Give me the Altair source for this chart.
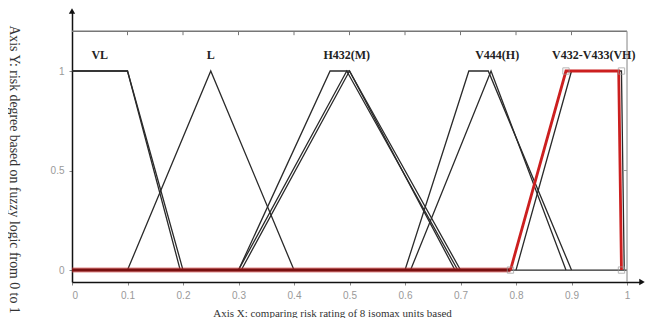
import altair as alt
import pandas as pd

# ---- data -------------------------------------------------------------
series_names = ["VL_a", "VL_b", "L", "M_trap", "M_tri_a", "M_tri_b",
                "H_trap", "H_tri", "VH_black", "base_black"]
series_x = [
    [0.0, 0.10, 0.20],
    [0.0, 0.10, 0.195],
    [0.10, 0.25, 0.40],
    [0.30, 0.465, 0.50, 0.69],
    [0.305, 0.50, 0.70],
    [0.30, 0.495, 0.695],
    [0.60, 0.715, 0.75, 0.90],
    [0.61, 0.755, 0.89],
    [0.80, 0.90, 0.99, 0.995],
    [0.0, 1.0],
]
series_y = [
    [1, 1, 0],
    [1, 1, 0],
    [0, 1, 0],
    [0, 1, 1, 0],
    [0, 1, 0],
    [0, 1, 0],
    [0, 1, 1, 0],
    [0, 1, 0],
    [0, 1, 1, 0],
    [0, 0],
]
red_x = [0.79, 0.89, 0.985, 0.99]
red_y = [0, 1, 1, 0]
red_base_x = [0.0, 0.79]
red_base_y = [0, 0]
marker_x = [0.79, 0.89, 0.99, 0.99]
marker_y = [0, 1, 1, 0]

label_text = ["VL", "L", "H432(M)", "V444(H)", "V432-V433(VH)"]
label_x = [0.05, 0.25, 0.495, 0.766, 0.94]
label_y = [1.08, 1.08, 1.08, 1.08, 1.08]

x_ticks = [0, 0.1, 0.2, 0.3, 0.4, 0.5, 0.6, 0.7, 0.8, 0.9, 1]
y_ticks = [0, 0.5, 1]
frame_top = 1.2
frame_right = 1.0
x_min, x_max = 0.0, 1.027
y_min, y_max = -0.06, 1.3015

x_title = "Axis X: comparing risk rating of 8 isomax units based"
y_title = "Axis Y: risk degree based on fuzzy logic from 0 to 1"

# ---- tables -----------------------------------------------------------
rows = []
for name, xs_, ys_ in zip(series_names, series_x, series_y):
    for i, (a, b) in enumerate(zip(xs_, ys_)):
        rows.append({"s": name, "x": a, "y": b, "o": i})
black_df = pd.DataFrame(rows)
red_df = pd.DataFrame({"x": red_x, "y": red_y, "o": range(len(red_x))})
red_base_df = pd.DataFrame({"x": red_base_x, "y": red_base_y})
marker_df = pd.DataFrame({"x": marker_x, "y": marker_y})
label_df = pd.DataFrame({"t": label_text, "x": label_x, "y": label_y})
frame_h_df = pd.DataFrame({"x": [x_min], "x2": [frame_right], "y": [frame_top]})
frame_v_df = pd.DataFrame({"x": [frame_right], "y": [frame_top], "y2": [y_min]})
top_tick_df = pd.DataFrame({"x": x_ticks[1:-1],
                            "y": [frame_top] * (len(x_ticks) - 2),
                            "y2": [frame_top - 0.02] * (len(x_ticks) - 2)})
right_tick_df = pd.DataFrame({"y": [0.5], "x": [frame_right],
                              "x2": [frame_right - 0.007]})

xs = alt.Scale(domain=[x_min, x_max], nice=False, zero=False)
ys = alt.Scale(domain=[y_min, y_max], nice=False, zero=False)

X = alt.X("x:Q", scale=xs,
          axis=alt.Axis(values=x_ticks, format="~g", title=x_title,
                        grid=False, domainColor="#111", domainWidth=1.5,
                        tickColor="#888", tickSize=3, labelColor="#999",
                        labelFont="Liberation Sans", labelFontSize=10,
                        labelPadding=5,
                        titleFont="Liberation Serif", titleFontSize=11,
                        titleFontWeight="normal", titleColor="#333",
                        titleX=260, titleY=31, titleBaseline="middle"))
Y = alt.Y("y:Q", scale=ys,
          axis=alt.Axis(values=y_ticks, format="~g", title=y_title,
                        grid=False, domainColor="#111", domainWidth=1.5,
                        tickColor="#888", tickSize=3, labelColor="#999",
                        labelFont="Liberation Sans", labelFontSize=10,
                        labelPadding=5,
                        titleFont="Liberation Serif", titleFontSize=13.8,
                        titleFontWeight="normal", titleColor="#333",
                        titleAngle=90, titleX=-59, titleY=158,
                        titleBaseline="middle"))

Xp = alt.X("x:Q", scale=xs)
Yp = alt.Y("y:Q", scale=ys)

frame_h = alt.Chart(frame_h_df).mark_rule(color="#777", strokeWidth=1.4).encode(
    x=Xp, x2="x2:Q", y=Yp)
frame_v = alt.Chart(frame_v_df).mark_rule(color="#999", strokeWidth=1.2).encode(
    x=Xp, y=Yp, y2="y2:Q")
top_ticks = alt.Chart(top_tick_df).mark_rule(color="#777", strokeWidth=1).encode(
    x=Xp, y=Yp, y2="y2:Q")
right_tick = alt.Chart(right_tick_df).mark_rule(color="#999", strokeWidth=1).encode(
    y=Yp, x=Xp, x2="x2:Q")

black_lines = alt.Chart(black_df).mark_line(color="#2a2a2a", strokeWidth=1.3).encode(
    x=X, y=Y, detail="s:N", order="o:Q")
red_base_glow = alt.Chart(red_base_df).mark_line(
    color="#d04040", strokeWidth=5, opacity=0.6).encode(x=Xp, y=Yp)
red_base = alt.Chart(red_base_df).mark_line(
    color="#7a1010", strokeWidth=3).encode(x=Xp, y=Yp)
red_line = alt.Chart(red_df).mark_line(
    color="#cc1f1f", strokeWidth=2.8).encode(x=Xp, y=Yp, order="o:Q")
markers = alt.Chart(marker_df).mark_point(
    shape="square", size=40, filled=False, color="#999", strokeWidth=1).encode(
    x=Xp, y=Yp)
labels = alt.Chart(label_df).mark_text(
    font="Liberation Serif", fontWeight="bold", fontSize=12, color="#222").encode(
    x=Xp, y=Yp, text="t:N")

arrow_up = alt.Chart(pd.DataFrame({"x": [x_min], "y": [y_max]})).mark_point(
    shape="triangle-up", filled=True, color="#111", size=40, opacity=1).encode(
    x=Xp, y=Yp)
arrow_right = alt.Chart(pd.DataFrame({"x": [x_max], "y": [y_min]})).mark_point(
    shape="triangle-right", filled=True, color="#111", size=40, opacity=1).encode(
    x=Xp, y=Yp)

chart = alt.layer(
    black_lines, frame_h, frame_v, top_ticks, right_tick,
    red_base_glow, red_base, red_line, markers, labels, arrow_up, arrow_right
).properties(
    width=570, height=271,
    autosize=alt.AutoSizeParams(type="none"),
    padding={"left": 64, "top": 3, "right": 6, "bottom": 36},
).configure_view(stroke="transparent", strokeWidth=0)

chart.save("out.html", embed_options={"renderer": "svg", "actions": False})
